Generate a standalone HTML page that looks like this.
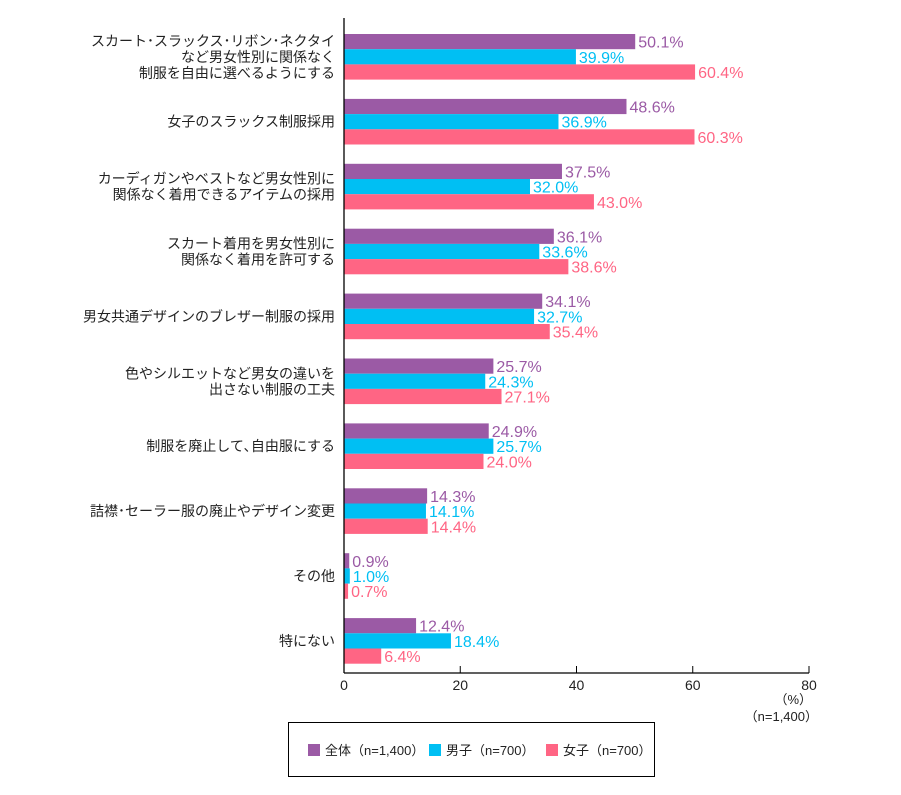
<!DOCTYPE html>
<html><head><meta charset="utf-8"><style>
body{margin:0;background:#fff;width:901px;height:790px;overflow:hidden;font-family:"Liberation Sans","Noto Sans CJK JP",sans-serif}
svg text{font-family:"Liberation Sans","Noto Sans CJK JP",sans-serif}
</style></head><body>
<svg id="c" width="901" height="790"></svg>
<script>
const categories=[["スカート･スラックス･リボン･ネクタイ","など男女性別に関係なく","制服を自由に選べるようにする"],["女子のスラックス制服採用"],["カーディガンやベストなど男女性別に","関係なく着用できるアイテムの採用"],["スカート着用を男女性別に","関係なく着用を許可する"],["男女共通デザインのブレザー制服の採用"],["色やシルエットなど男女の違いを","出さない制服の工夫"],["制服を廃止して､自由服にする"],["詰襟･セーラー服の廃止やデザイン変更"],["その他"],["特にない"]];
const allValues=[50.1,48.6,37.5,36.1,34.1,25.7,24.9,14.3,0.9,12.4];
const boyValues=[39.9,36.9,32.0,33.6,32.7,24.3,25.7,14.1,1.0,18.4];
const girlValues=[60.4,60.3,43.0,38.6,35.4,27.1,24.0,14.4,0.7,6.4];
const ticks=[0,20,40,60,80];
const seriesNames=["全体（n=1,400）","男子（n=700）","女子（n=700）"];
const colors=["#9b5aa5","#00bff3","#ff6584"];
const svg=document.getElementById('c');const NS="http://www.w3.org/2000/svg";
const x0=344,x1=809,xmax=80;
const X=v=>x0+(v/xmax)*(x1-x0);
const gTop=34,gStep=64.9,bh=15.2;
function el(t,a,txt){const e=document.createElementNS(NS,t);for(const k in a)e.setAttribute(k,a[k]);if(txt!==undefined)e.textContent=txt;svg.appendChild(e);return e;}
const series=[allValues,boyValues,girlValues];
categories.forEach((lines,i)=>{
 const top=gTop+i*gStep;
 series.forEach((vals,s)=>{
  const y=top+s*bh;
  const r=el('rect',{x:x0,y:y,width:X(vals[i])-x0,height:bh,fill:colors[s]});
  
  
  const t=el('text',{x:X(vals[i])+3,y:y+bh/2+6,'font-size':16,fill:colors[s]},vals[i].toFixed(1)+'%');
  
  
 });
 const cy=top+bh*1.5;const n=lines.length;
 lines.forEach((ln,j)=>{
  const t=el('text',{x:335,y:cy+(j-(n-1)/2)*16+5,'font-size':14,'text-anchor':'end',fill:'#222'},ln);
  
  
 });
});
const ya=el('line',{x1:x0,y1:18,x2:x0,y2:673,stroke:'#000','stroke-width':1.3});

const xa=el('line',{x1:x0,y1:673,x2:x1,y2:673,stroke:'#000','stroke-width':1.3});

ticks.forEach(v=>{
 const tk=el('line',{x1:X(v),y1:666,x2:X(v),y2:673,stroke:'#000','stroke-width':1});
 
 const t=el('text',{x:X(v),y:690,'font-size':14,'text-anchor':'middle',fill:'#222'},String(v));
 
});
const u=el('text',{x:812,y:704,'font-size':13,'text-anchor':'end',fill:'#222'},'（%）');

const nl=el('text',{x:818,y:721,'font-size':13,'text-anchor':'end',fill:'#222'},'（n=1,400）');

const lb=el('rect',{x:288.5,y:722.5,width:366,height:54,fill:'none',stroke:'#000','stroke-width':1});

const lx=[308,429,546];
seriesNames.forEach((nm,s)=>{
 const r=el('rect',{x:lx[s],y:744,width:12,height:12,fill:colors[s]});
 
 const t=el('text',{x:lx[s]+17,y:755,'font-size':13,fill:'#222'},nm);
 
});
</script>
</body></html>
